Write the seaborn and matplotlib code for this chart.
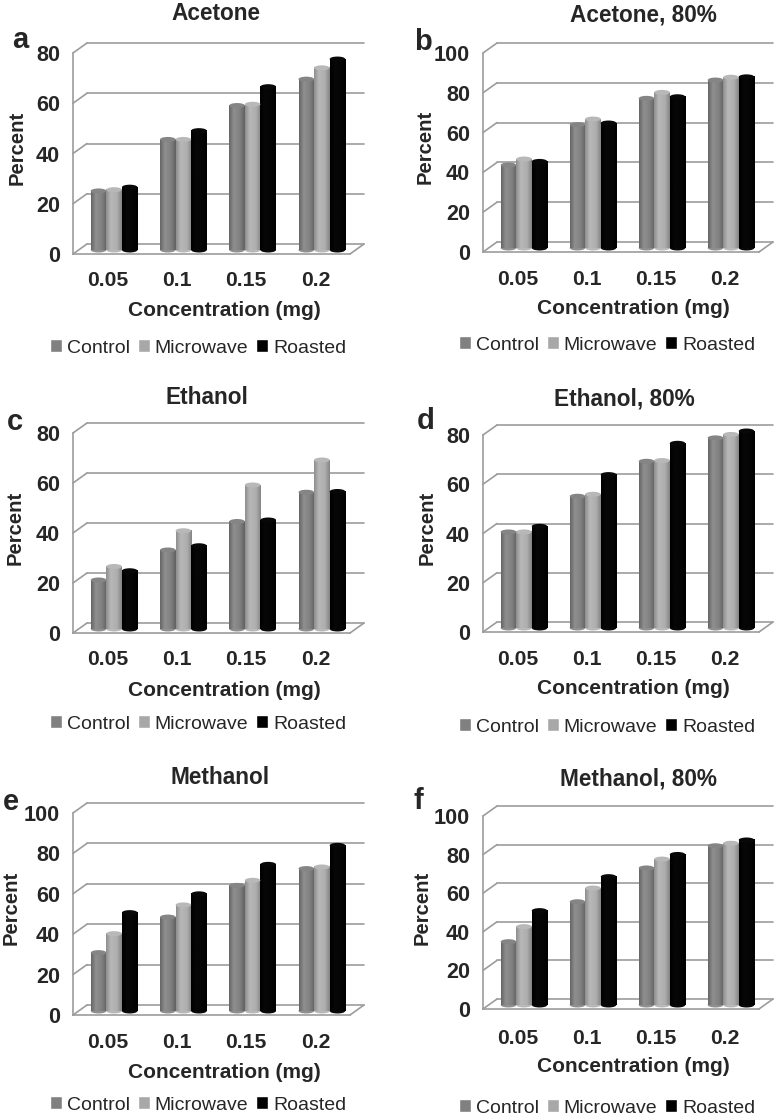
import numpy as np
import pandas as pd
import matplotlib
matplotlib.use('Agg')
import matplotlib.pyplot as plt
from matplotlib.patches import Ellipse
import seaborn as sns

# Valores
concentrations = ['0.05', '0.1', '0.15', '0.2']
treatments = ['Control', 'Microwave', 'Roasted']

acetone_control = [23.5, 44, 57.5, 68]
acetone_microwave = [24, 44, 58, 72.5]
acetone_roasted = [25, 47.5, 65, 76]

acetone80_control = [41.7, 62, 75.2, 84.4]
acetone80_microwave = [44.7, 64.8, 78.2, 85.8]
acetone80_roasted = [43.5, 62.8, 76, 86]

ethanol_control = [19.6, 31.6, 43, 54.7]
ethanol_microwave = [25, 39.3, 57.6, 67.6]
ethanol_roasted = [23.3, 33.3, 43.6, 55]

ethanol80_control = [39, 53.5, 67.7, 77.2]
ethanol80_microwave = [39, 54.3, 68, 78.6]
ethanol80_roasted = [41.3, 62.3, 75, 80]

methanol_control = [28.9, 46.5, 62.2, 70.5]
methanol_microwave = [38.3, 52.5, 64.7, 71.3]
methanol_roasted = [48.7, 58, 72.6, 82]

methanol80_control = [32.8, 53.5, 71, 82.5]
methanol80_microwave = [40.6, 60.6, 75.6, 83.8]
methanol80_roasted = [48.9, 66.5, 78, 85.5]

W, H = 780, 1118
GRID = '#9c9c9c'
colors = ['#808080', '#a8a8a8', '#000000']
# perfil de cinza de cada cilindro (esquerda, meio, direita)
shades = [[0.40, 0.56, 0.50, 0.38], [0.56, 0.72, 0.68, 0.52], [0.0, 0.03, 0.02, 0.0]]
cap_shades = [0.52, 0.72, 0.03]

# layout de cada painel em pixels da imagem
panels = [
    dict(letter='a', title='Acetone', series=(acetone_control, acetone_microwave, acetone_roasted),
         ymax=80, x0=73, x1=350, y0=254, ytop=53, title_xy=(216, 14), letter_xy=(12, 48),
         ylabel_xy=(17, 148), xtick=279, xlabel_xy=(224, 311), legend_xy=(198, 348)),
    dict(letter='b', title='Acetone, 80%', series=(acetone80_control, acetone80_microwave, acetone80_roasted),
         ymax=100, x0=483, x1=759, y0=252, ytop=53, title_xy=(643, 15), letter_xy=(414, 50),
         ylabel_xy=(425, 147), xtick=278, xlabel_xy=(633, 309), legend_xy=(607, 345)),
    dict(letter='c', title='Ethanol', series=(ethanol_control, ethanol_microwave, ethanol_roasted),
         ymax=80, x0=73, x1=350, y0=633, ytop=433, title_xy=(207, 398), letter_xy=(7, 430),
         ylabel_xy=(15, 528), xtick=658, xlabel_xy=(224, 690), legend_xy=(198, 724)),
    dict(letter='d', title='Ethanol, 80%', series=(ethanol80_control, ethanol80_microwave, ethanol80_roasted),
         ymax=80, x0=483, x1=759, y0=632, ytop=435, title_xy=(624, 399), letter_xy=(417, 429),
         ylabel_xy=(427, 528), xtick=658, xlabel_xy=(633, 688), legend_xy=(607, 727)),
    dict(letter='e', title='Methanol', series=(methanol_control, methanol_microwave, methanol_roasted),
         ymax=100, x0=73, x1=350, y0=1015, ytop=813, title_xy=(220, 778), letter_xy=(3, 810),
         ylabel_xy=(11, 908), xtick=1041, xlabel_xy=(224, 1072), legend_xy=(198, 1105)),
    dict(letter='f', title='Methanol, 80%', series=(methanol80_control, methanol80_microwave, methanol80_roasted),
         ymax=100, x0=483, x1=759, y0=1009, ytop=816, title_xy=(638, 779), letter_xy=(414, 809),
         ylabel_xy=(422, 908), xtick=1037, xlabel_xy=(633, 1067), legend_xy=(607, 1108)),
]

DEPTH_X, DEPTH_Y = 14, 10
BAR_X, BAR_Y = 6.5, 4

sns.set_style('white')
plt.rcParams['font.family'] = ['Liberation Sans', 'DejaVu Sans']
fig = plt.figure(figsize=(W / 100, H / 100), dpi=100)


def fx(x):
    return x / W


def fy(y):
    return 1 - y / H


def make_axes(p, dx=0, dy=0, zorder=1):
    rect = [fx(p['x0'] + dx), fy(p['y0'] - dy), (p['x1'] - p['x0']) / W, (p['y0'] - p['ytop']) / H]
    a = fig.add_axes(rect, zorder=zorder)
    a.patch.set_alpha(0)
    a.set_xlim(-0.5, 3.5)
    a.set_ylim(0, p['ymax'])
    return a


def draw_cylinders(a, p):
    px_y = p['ymax'] / (p['y0'] - p['ytop'])
    for i, container in enumerate(a.containers):
        for bar in container:
            left, w, h = bar.get_x(), bar.get_width(), bar.get_height()
            bar.set_visible(False)
            ramp = np.interp(np.linspace(0, 1, 40), [0, 0.3, 0.7, 1], shades[i])[None, :]
            base = Ellipse((left + w / 2, 0), w, 5 * px_y, color=str(shades[i][1]), zorder=2, lw=0, clip_on=False)
            a.add_patch(base)
            img = a.imshow(ramp, extent=(left, left + w, 0, h), aspect='auto', cmap='gray',
                           vmin=0, vmax=1, zorder=3, interpolation='bilinear')
            img.set_clip_on(False)
            top = Ellipse((left + w / 2, h), w, 5 * px_y, color=str(cap_shades[i]), zorder=4, lw=0, clip_on=False)
            a.add_patch(top)
    a.set_xlim(-0.5, 3.5)
    a.set_ylim(0, p['ymax'])


for p in panels:
    yticks = np.arange(0, p['ymax'] + 1, 20)

    # parede do fundo com as linhas de grade
    back = make_axes(p, DEPTH_X, DEPTH_Y, zorder=1)
    back.set_yticks(yticks)
    back.set_xticks([])
    back.tick_params(left=False, labelleft=False)
    back.grid(axis='y', color=GRID, lw=1.2, clip_on=False)
    sns.despine(ax=back, left=True, bottom=True)

    # eixo da frente
    ax = make_axes(p, zorder=2)
    ax.set_yticks(yticks)
    ax.set_xticks(np.arange(-0.5, 4, 1))
    ax.set_xticklabels([])
    ax.set_xticks(range(4), concentrations, minor=True)
    ax.tick_params(axis='x', which='major', length=4.3, width=1.1, color=GRID)
    ax.tick_params(axis='x', which='minor', length=0, labelsize=15.2, pad=(p['xtick'] - p['y0'] - 7.5) / 1.39)
    ax.tick_params(axis='y', length=4.3, width=1.1, color=GRID, labelsize=15.6, pad=5)
    for lab in ax.get_xticklabels(minor=True) + ax.get_yticklabels():
        lab.set_fontweight('bold')
    for side in ['top', 'right']:
        ax.spines[side].set_visible(False)
    for side in ['left', 'bottom']:
        ax.spines[side].set_color(GRID)
        ax.spines[side].set_linewidth(1.2)

    # diagonais que ligam a frente ao fundo
    ddx = DEPTH_X * 4 / (p['x1'] - p['x0'])
    ddy = DEPTH_Y * p['ymax'] / (p['y0'] - p['ytop'])
    for v in yticks:
        ax.plot([-0.5, -0.5 + ddx], [v, v + ddy], color=GRID, lw=1.2, clip_on=False)
    ax.plot([3.5, 3.5 + ddx], [0, ddy], color=GRID, lw=1.2, clip_on=False)

    ax.set_xlabel('Concentration (mg)', fontsize=15, fontweight='bold')
    ax.xaxis.set_label_coords(fx(p['xlabel_xy'][0]), fy(p['xlabel_xy'][1]), transform=fig.transFigure)
    ax.xaxis.label.set_va('center')
    ax.set_ylabel('Percent', fontsize=14.6, fontweight='bold')
    ax.yaxis.set_label_coords(fx(p['ylabel_xy'][0]), fy(p['ylabel_xy'][1]), transform=fig.transFigure)
    ax.yaxis.label.set_va('center')
    ax.set_title(p['title'], fontsize=16.3, fontweight='bold', va='center',
                 x=fx(p['title_xy'][0]), y=fy(p['title_xy'][1]), transform=fig.transFigure)
    fig.text(fx(p['letter_xy'][0]), fy(p['letter_xy'][1]), p['letter'], fontsize=21,
             fontweight='bold', ha='left', va='baseline')

    # barras
    df = pd.DataFrame({
        'Concentration': concentrations * 3,
        'Treatment': [t for t in treatments for _ in concentrations],
        'Percent': [v for s in p['series'] for v in s],
    })
    bars = make_axes(p, BAR_X, BAR_Y, zorder=3)
    sns.barplot(data=df, x='Concentration', y='Percent', hue='Treatment', hue_order=treatments,
                palette=colors, saturation=1, width=0.675, gap=0, errorbar=None, ax=bars)
    handles, labels = bars.get_legend_handles_labels()
    draw_cylinders(bars, p)
    bars.legend(handles, labels, loc='center', bbox_to_anchor=(fx(p['legend_xy'][0]), fy(p['legend_xy'][1])),
                bbox_transform=fig.transFigure, ncol=3, frameon=False, fontsize=14, borderpad=0,
                handlelength=0.62, handleheight=0.62, handletextpad=0.26, columnspacing=0.4, borderaxespad=0)
    bars.axis('off')

plt.savefig('out.png', dpi=100)
plt.close()
